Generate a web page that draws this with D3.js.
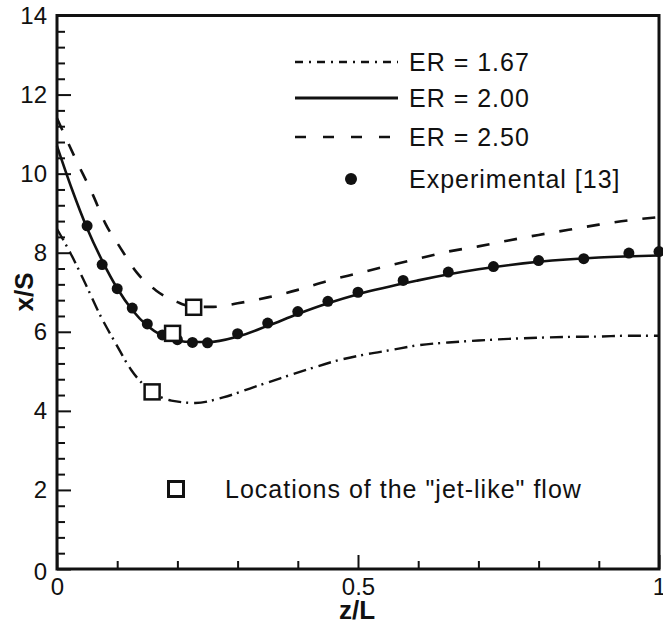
<!DOCTYPE html>
<html>
<head>
<meta charset="utf-8">
<script src="https://cdn.jsdelivr.net/npm/d3@7"></script>
<style>
  html, body { margin: 0; padding: 0; background: #fff; }
  svg { display: block; }
  text { font-family: "Liberation Sans", Arial, Helvetica, sans-serif; fill: #111; }
</style>
</head>
<body>
<svg id="chart" width="663" height="622"></svg>
<script>
// ---------- data ----------
const xMajorTicks = [0, 0.5, 1];
const xTickLabels = ["0", "0.5", "1"];
const xMinorTicks = [0.1, 0.2, 0.3, 0.4, 0.6, 0.7, 0.8, 0.9];
const yMajorTicks = [0, 2, 4, 6, 8, 10, 12, 14];
const yTickLabels = ["0", "2", "4", "6", "8", "10", "12", "14"];
const yMinorTicks = [0.4, 0.8, 1.2, 1.6, 2.4, 2.8, 3.2, 3.6, 4.4, 4.8, 5.2, 5.6, 6.4, 6.8, 7.2, 7.6,
                     8.4, 8.8, 9.2, 9.6, 10.4, 10.8, 11.2, 11.6, 12.4, 12.8, 13.2, 13.6];

// ER = 1.67 (dash-dot)
const er167Z = [0, 0.022, 0.048, 0.073, 0.097, 0.123, 0.158, 0.19, 0.23, 0.276, 0.327, 0.372, 0.415, 0.46,
                0.51, 0.555, 0.6, 0.65, 0.7, 0.75, 0.8, 0.85, 0.9, 0.95, 1.0];
const er167V = [8.6, 8.0, 7.19, 6.38, 5.72, 5.04, 4.48, 4.26, 4.2, 4.34, 4.6, 4.83, 5.04, 5.25,
                5.42, 5.54, 5.66, 5.73, 5.78, 5.82, 5.85, 5.87, 5.88, 5.9, 5.9];
// ER = 2.00 (solid)
const er200Z = [0, 0.025, 0.05, 0.075, 0.1, 0.125, 0.15, 0.175, 0.2, 0.225, 0.25, 0.3, 0.35, 0.4, 0.45,
                0.5, 0.6, 0.7, 0.8, 0.9, 1.0];
const er200V = [10.7, 9.6, 8.62, 7.8, 7.1, 6.55, 6.15, 5.9, 5.78, 5.74, 5.74, 5.88, 6.15, 6.45, 6.72,
                6.95, 7.3, 7.58, 7.77, 7.88, 7.93];
// ER = 2.50 (dashed)
const er250Z = [0, 0.03, 0.06, 0.08, 0.105, 0.133, 0.165, 0.2, 0.227, 0.26, 0.3, 0.35, 0.4, 0.45, 0.5,
                0.55, 0.6, 0.65, 0.7, 0.75, 0.8, 0.85, 0.9, 0.95, 1.0];
const er250V = [11.4, 10.4, 9.45, 8.75, 8.13, 7.49, 7.04, 6.75, 6.63, 6.63, 6.72, 6.87, 7.06, 7.29, 7.48,
                7.67, 7.85, 8.03, 8.16, 8.31, 8.45, 8.58, 8.71, 8.82, 8.9];
// Experimental [13]
const expZ = [0.05, 0.075, 0.1, 0.125, 0.15, 0.175, 0.2, 0.225, 0.25, 0.3, 0.35, 0.4, 0.45, 0.5,
              0.575, 0.65, 0.725, 0.8, 0.875, 0.95, 1.0];
const expV = [8.68, 7.7, 7.09, 6.6, 6.2, 5.92, 5.8, 5.73, 5.72, 5.95, 6.22, 6.51, 6.77, 7.0,
              7.3, 7.51, 7.65, 7.8, 7.85, 7.99, 8.03];
// "jet-like" flow locations
const jetZ = [0.158, 0.192, 0.227];
const jetV = [4.48, 5.96, 6.62];

const legendLabels = ["ER = 1.67", "ER = 2.00", "ER = 2.50", "Experimental [13]"];
const jetLabel = "Locations of the \"jet-like\" flow";
const xTitle = "z/L";
const yTitle = "x/S";

// ---------- layout ----------
const L = 57, R = 659, T = 15.5, B = 569;
const svg = d3.select("#chart");
const x = d3.scaleLinear().domain([0, 1]).range([L, R]);
const y = d3.scaleLinear().domain([0, 14]).range([B, T]);

// axes (ticks inward)
svg.append("g").attr("transform", `translate(0,${B})`)
  .call(d3.axisBottom(x).tickValues(xMajorTicks).tickSize(-14).tickPadding(9)
        .tickFormat((d, i) => xTickLabels[i]));
svg.append("g").attr("transform", `translate(0,${B})`)
  .call(d3.axisBottom(x).tickValues(xMinorTicks).tickSize(-8).tickFormat(""));
const gy = svg.append("g").attr("transform", `translate(${L},0)`)
  .call(d3.axisLeft(y).tickValues(yMajorTicks).tickSize(-14).tickPadding(10)
        .tickFormat((d, i) => yTickLabels[i]));
svg.append("g").attr("transform", `translate(${L},0)`)
  .call(d3.axisLeft(y).tickValues(yMinorTicks).tickSize(-8).tickFormat(""));

svg.selectAll(".domain").remove();
svg.selectAll(".tick line").attr("stroke", "#111").attr("stroke-width", 2);
svg.selectAll(".tick text").attr("font-size", 24).attr("fill", "#111")
   .attr("font-family", "\"Liberation Sans\", Arial, sans-serif");
gy.selectAll(".tick text").filter(d => d === 0).attr("dy", "0.45em");
gy.selectAll(".tick text").attr("x", -10);

// frame
svg.append("rect").attr("x", L).attr("y", T).attr("width", R - L).attr("height", B - T)
  .attr("fill", "none").attr("stroke", "#111").attr("stroke-width", 3);

// lines
const line = d3.line().x(d => x(d[0])).y(d => y(d[1])).curve(d3.curveMonotoneX);
const zip = (a, b) => a.map((v, i) => [v, b[i]]);

const series = [
  { z: er167Z, v: er167V, dash: "13,5,2,6", w: 2.4, legDash: "8,6,2,6" },
  { z: er200Z, v: er200V, dash: null, w: 2.6, legDash: null },
  { z: er250Z, v: er250V, dash: "13,15", w: 2.6, legDash: "11,17" }
];
series.forEach(s => {
  svg.append("path").datum(zip(s.z, s.v)).attr("d", line)
    .attr("fill", "none").attr("stroke", "#111").attr("stroke-width", s.w)
    .attr("stroke-dasharray", s.dash);
});

// experimental dots
svg.append("g").selectAll("circle").data(zip(expZ, expV)).join("circle")
  .attr("cx", d => x(d[0])).attr("cy", d => y(d[1])).attr("r", 5.5).attr("fill", "#111");

// jet-like squares
const sq = 15;
svg.append("g").selectAll("rect").data(zip(jetZ, jetV)).join("rect")
  .attr("x", d => x(d[0]) - sq / 2).attr("y", d => y(d[1]) - sq / 2)
  .attr("width", sq).attr("height", sq)
  .attr("fill", "#fff").attr("stroke", "#111").attr("stroke-width", 2.5);

// legend
const legY = [62, 98, 137];
series.forEach((s, i) => {
  svg.append("line").attr("x1", 295).attr("x2", 398).attr("y1", legY[i]).attr("y2", legY[i])
    .attr("stroke", "#111").attr("stroke-width", s.dash ? 2.6 : 3)
    .attr("stroke-dasharray", s.legDash);
  svg.append("text").attr("x", 409).attr("y", legY[i] + 9).attr("font-size", 25)
    .attr("letter-spacing", 1).text(legendLabels[i]);
});
svg.append("circle").attr("cx", 351).attr("cy", 179).attr("r", 6).attr("fill", "#111");
svg.append("text").attr("x", 409).attr("y", 188).attr("font-size", 25)
  .attr("letter-spacing", 1).text(legendLabels[3]);

svg.append("rect").attr("x", 176 - sq / 2).attr("y", 489 - sq / 2).attr("width", sq).attr("height", sq)
  .attr("fill", "#fff").attr("stroke", "#111").attr("stroke-width", 3);
svg.append("text").attr("x", 225).attr("y", 498).attr("font-size", 25)
  .attr("letter-spacing", 1).text(jetLabel);

// axis titles
svg.append("text").attr("x", 357).attr("y", 619).attr("text-anchor", "middle")
  .attr("font-size", 26).attr("font-weight", "bold").text(xTitle);
svg.append("text").attr("transform", "translate(33,292) rotate(-90)").attr("text-anchor", "middle")
  .attr("font-size", 26).attr("font-weight", "bold").text(yTitle);
</script>
</body>
</html>
